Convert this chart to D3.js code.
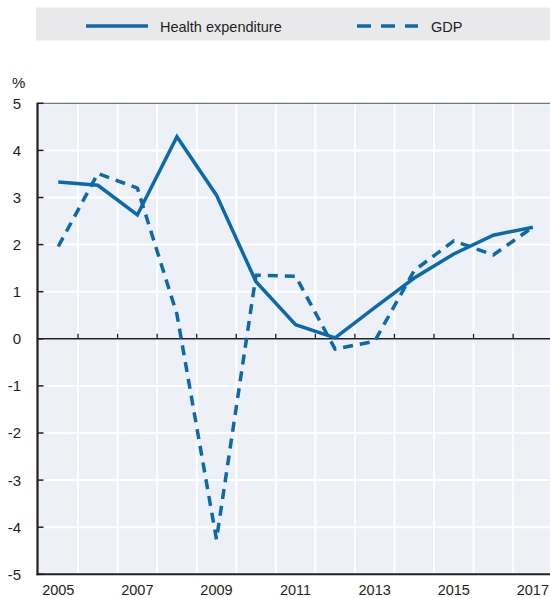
<!DOCTYPE html>
<html><head><meta charset="utf-8">
<script src="https://cdn.jsdelivr.net/npm/d3@7"></script>
<style>
html,body{margin:0;padding:0;background:#fff;}
text{font-family:"Liberation Sans",Arial,sans-serif;fill:#231f20;}
</style></head>
<body>
<svg id="chart" width="550" height="598"></svg>
<script>
const years = [2005,2006,2007,2008,2009,2010,2011,2012,2013,2014,2015,2016,2017];
const healthExpenditure = [3.33,3.26,2.63,4.29,3.05,1.21,0.30,0.02,0.66,1.29,1.80,2.20,2.37];
const gdp = [1.96,3.51,3.20,0.52,-4.26,1.35,1.33,-0.22,-0.05,1.45,2.08,1.78,2.37];
const yTicks = [-5,-4,-3,-2,-1,0,1,2,3,4,5];
const xTickLabels = [2005,2007,2009,2011,2013,2015,2017];
const seriesNames = ["Health expenditure","GDP"];

const blue = "#0a6aab";
const svg = d3.select("#chart");

const x = d3.scaleBand().domain(years).range([38.5, 38.5 + 13*39.55]).paddingInner(0).paddingOuter(0);
const y = d3.scaleLinear().domain([-5,5]).range([574.3,103.3]);
const bw = x.bandwidth();
const left = 37.5, right = 550;

// plot background
svg.append("rect").attr("x",left).attr("y",y(5)).attr("width",right-left).attr("height",y(-5)-y(5)).attr("fill","#edf0f7");

// horizontal grid
svg.append("g").selectAll("line").data(yTicks).join("line")
  .attr("x1",left).attr("x2",right).attr("y1",d=>y(d)).attr("y2",d=>y(d))
  .attr("stroke","#fff").attr("stroke-width",2);
// vertical grid at band boundaries
svg.append("g").selectAll("line").data(years.slice(1)).join("line")
  .attr("x1",d=>x(d)).attr("x2",d=>x(d)).attr("y1",y(5)).attr("y2",y(-5))
  .attr("stroke","#fff").attr("stroke-width",2);

// top border
svg.append("line").attr("x1",left).attr("x2",right).attr("y1",y(5)).attr("y2",y(5)).attr("stroke","#555").attr("stroke-width",1);

// zero line with upward ticks
svg.append("line").attr("x1",left).attr("x2",right).attr("y1",y(0)).attr("y2",y(0)).attr("stroke","#231f20").attr("stroke-width",1.6);
svg.append("g").selectAll("line").data(years.slice(1)).join("line")
  .attr("x1",d=>x(d)).attr("x2",d=>x(d)).attr("y1",y(0)).attr("y2",y(0)-5)
  .attr("stroke","#231f20").attr("stroke-width",1.3);

// bottom axis line
svg.append("line").attr("x1",left-1).attr("x2",right).attr("y1",y(-5)).attr("y2",y(-5)).attr("stroke","#231f20").attr("stroke-width",2);

// left axis
svg.append("line").attr("x1",left).attr("x2",left).attr("y1",y(5)-0.5).attr("y2",y(-5)+1).attr("stroke","#231f20").attr("stroke-width",2.2);
svg.append("g").selectAll("line").data(yTicks).join("line")
  .attr("x1",left).attr("x2",left+6).attr("y1",d=>y(d)).attr("y2",d=>y(d))
  .attr("stroke","#231f20").attr("stroke-width",1.5);
svg.append("g").selectAll("text").data(yTicks).join("text")
  .attr("x",21).attr("y",d=>y(d)).attr("dy","0.36em").attr("text-anchor","end")
  .attr("font-size",15).text(d=>d);
svg.append("text").attr("x",12).attr("y",88).attr("font-size",15).text("%");

// x labels
svg.append("g").selectAll("text").data(xTickLabels).join("text")
  .attr("x",d=>x(d)+bw/2).attr("y",594.5).attr("text-anchor","middle")
  .attr("font-size",14.5).text(d=>d);

// lines
const line = d3.line().x((d,i)=>x(years[i])+bw/2).y(d=>y(d));
svg.append("path").datum(gdp).attr("d",line).attr("fill","none")
  .attr("stroke",blue).attr("stroke-width",3.5).attr("stroke-dasharray","10,7").attr("stroke-linejoin","round");
svg.append("path").datum(healthExpenditure).attr("d",line).attr("fill","none")
  .attr("stroke",blue).attr("stroke-width",3.5).attr("stroke-linejoin","miter");

// legend
const lg = svg.append("g");
lg.append("rect").attr("x",36).attr("y",7.5).attr("width",514).attr("height",33).attr("fill","#e9e9eb");
lg.append("line").attr("x1",86).attr("x2",148).attr("y1",26).attr("y2",26).attr("stroke",blue).attr("stroke-width",3.5);
lg.append("text").attr("x",160).attr("y",31.5).attr("font-size",14.5).text(seriesNames[0]);
lg.append("line").attr("x1",357).attr("x2",418).attr("y1",26).attr("y2",26).attr("stroke",blue).attr("stroke-width",3.5).attr("stroke-dasharray","14,10");
lg.append("text").attr("x",431).attr("y",31.5).attr("font-size",14.5).text(seriesNames[1]);
</script>
</body></html>
